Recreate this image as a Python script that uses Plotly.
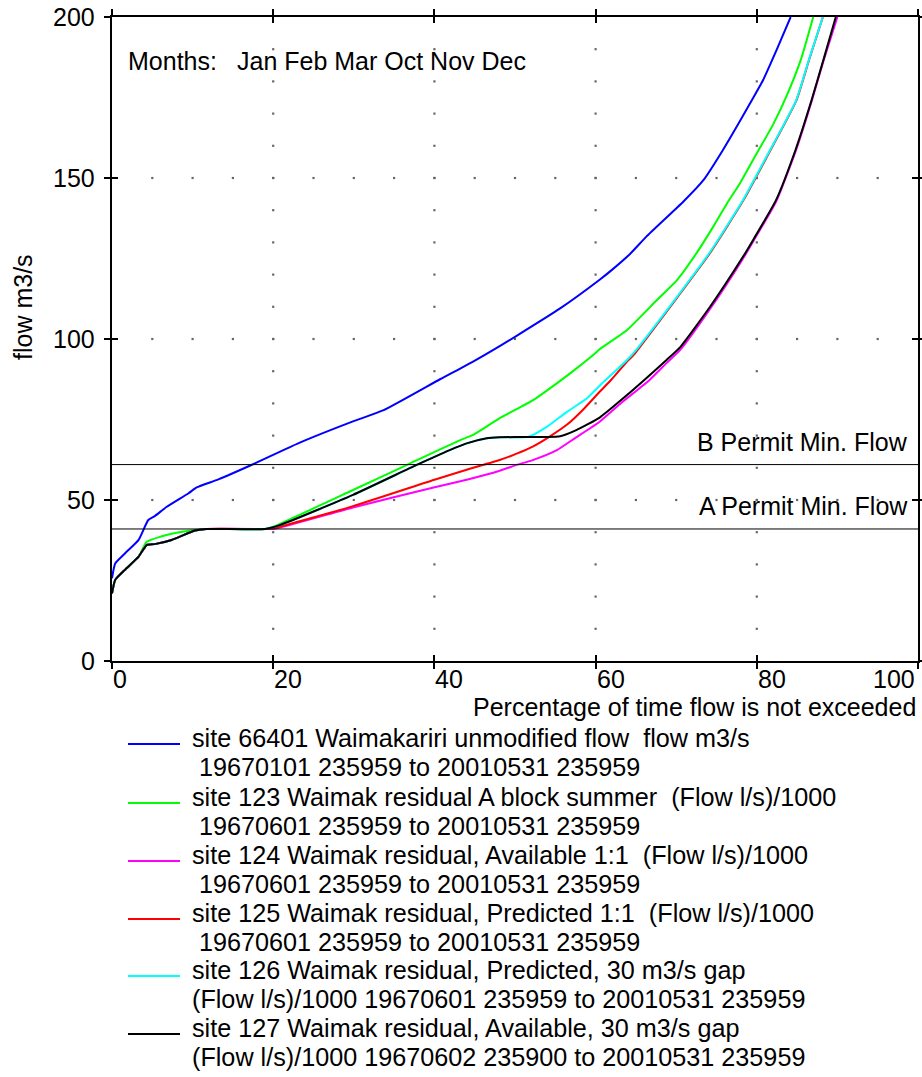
import plotly.graph_objects as go

# ---------------- data ----------------
BLUE_X = [0, 0.4, 1.6, 3.3, 4.5, 5.3, 6.8, 9.5, 10.5, 13.2, 17.5, 23.3, 29.9, 33.7, 40.7, 44.8, 48.1, 50.2,
          55.6, 60.5, 61.8, 64.3, 66.3, 70.9, 73.4, 75.8, 79.4, 80.8, 82.5, 84.2]
BLUE_Y = [25.7, 30.3, 33.4, 37.6, 43.8, 45.0, 47.9, 52.1, 53.9, 56.4, 61.1, 67.8, 74.4, 77.9, 87.5, 93.0, 97.8, 101.0,
          109.5, 118.4, 121.0, 126.5, 131.8, 142.7, 149.4, 158.7, 174.2, 180.5, 190.0, 200]

GREEN_X = [0, 0.4, 1.6, 3.3, 4.3, 6, 8, 10, 11.5, 19, 20, 29.9, 37, 43.2, 44.8, 48.1, 52.3, 55.6, 57.6, 59.7,
           60.5, 63.9, 67.6, 70.1, 72.5, 74.6, 76.3, 77.9, 80, 82, 83.7, 85.5, 87]
GREEN_Y = [21, 25.2, 28.3, 32.4, 37.0, 38.6, 39.8, 40.6, 41, 41, 41.7, 53.1, 61.4, 68.6, 70.2, 75.4, 81.1, 87.0, 90.8, 95.0,
           96.8, 102.8, 112.1, 118.3, 126.6, 134.9, 142.1, 148.3, 157.7, 166.5, 175.5, 187, 200]

MAGENTA_X = [0, 0.4, 1.6, 3.3, 4.3, 5.3, 7.4, 10.3, 11.7, 19, 20, 29.9, 39.9, 44, 48.1, 50.2, 52.2, 55.2, 57.5,
             60.5, 63.2, 66.7, 68.8, 70.5, 74.2, 78.3, 79.6, 82.4, 84.8, 86.8, 88.3, 90]
MAGENTA_Y = [21, 25.2, 28.3, 32.4, 36.0, 36.3, 37.6, 40.5, 41, 41, 41.0, 47.7, 53.9, 56.3, 59.1, 60.9, 62.4, 65.5, 69.3,
             74.3, 80.2, 87.3, 92.5, 96.6, 109.3, 125.0, 130.5, 142.7, 158.2, 173.8, 186.6, 200]

RED_X = [0, 0.4, 1.6, 3.3, 4.3, 5.3, 7.4, 10.3, 11.7, 19, 20, 29.9, 39.9, 44, 48.1, 50.2, 52.2, 54.3, 56.5, 58.5,
         60.5, 62, 63.9, 64.7, 70.1, 74.2, 78.3, 81.2, 84.9, 86.5, 88.2]
RED_Y = [21, 25.2, 28.3, 32.4, 36.0, 36.3, 37.6, 40.5, 41, 41, 41.2, 48.1, 56.2, 59.4, 62.4, 64.4, 66.6, 69.7, 73.5, 78.2,
         83.6, 87.5, 93.0, 95.0, 112.8, 126.7, 142.9, 156.3, 174.0, 186.8, 200]

CYAN_X = [0, 0.4, 1.6, 3.3, 4.3, 5.3, 7.4, 10.3, 11.7, 19, 20.8, 29.9, 37.8, 41.9, 44, 46.5, 48.1, 51.6, 54,
          56.4, 58.9, 60.5, 63.9, 64.7, 70.1, 74.2, 78.3, 81.2, 84.9, 86.5, 88.2]
CYAN_Y = [21, 25.2, 28.3, 32.4, 36.0, 36.3, 37.6, 40.5, 41, 41, 42.2, 51.6, 60.9, 65.5, 67.6, 69.2, 69.5, 69.6, 72.8,
          77.3, 81.5, 85.5, 93.5, 95.6, 113.1, 127.0, 143.2, 156.6, 174.2, 187, 200]

BLACK_X = [0, 0.4, 1.6, 3.3, 4.3, 5.3, 7.4, 10.3, 11.7, 19, 20.8, 29.9, 37.8, 41.9, 44, 46.5, 48.1, 55.6, 57.6,
           60.5, 63.2, 68.8, 70.5, 74.2, 78.3, 79.6, 82.4, 84.8, 86.8, 88.3, 89.8]
BLACK_Y = [21, 25.2, 28.3, 32.4, 36.0, 36.3, 37.6, 40.5, 41, 41, 42.2, 51.6, 60.9, 65.5, 67.6, 69.2, 69.5, 69.8, 71.7,
           75.6, 81.1, 93.5, 97.5, 110.0, 125.6, 131.0, 143.2, 158.7, 174.2, 187, 200]

A_PERMIT_MIN = 41
B_PERMIT_MIN = 61

X_TICKS = [0, 20, 40, 60, 80, 100]
Y_TICKS = [0, 50, 100, 150, 200]

SERIES_NAMES = [
    ("site 66401 Waimakariri unmodified flow\u00a0 flow m3/s", "\u00a019670101 235959 to 20010531 235959"),
    ("site 123 Waimak residual A block summer\u00a0 (Flow l/s)/1000", "\u00a019670601 235959 to 20010531 235959"),
    ("site 124 Waimak residual, Available 1:1\u00a0 (Flow l/s)/1000", "\u00a019670601 235959 to 20010531 235959"),
    ("site 125 Waimak residual, Predicted 1:1\u00a0 (Flow l/s)/1000", "\u00a019670601 235959 to 20010531 235959"),
    ("site 126 Waimak residual, Predicted, 30 m3/s gap", "(Flow l/s)/1000 19670601 235959 to 20010531 235959"),
    ("site 127 Waimak residual, Available, 30 m3/s gap", "(Flow l/s)/1000 19670602 235900 to 20010531 235959"),
]
SERIES_COLORS = ["#0000FF", "#00FF00", "#FF00FF", "#FF0000", "#00FFFF", "#000000"]
SERIES_DATA = [(BLUE_X, BLUE_Y), (GREEN_X, GREEN_Y), (MAGENTA_X, MAGENTA_Y),
               (RED_X, RED_Y), (CYAN_X, CYAN_Y), (BLACK_X, BLACK_Y)]

# ---------------- layout geometry ----------------
W, H = 922, 1077
PL, PR, PT, PB = 112, 918, 17, 661   # plot area pixel bounds
FONT = "Liberation Sans, Arial, sans-serif"
FS = 25
FS_LEG = 25.2


def px(xp):
    return (xp - PL) / (PR - PL)


def py(yp):
    return (PB - yp) / (PB - PT)


fig = go.Figure()

# dotted grid (dots every 5 along value lines, every 10 along x-lines)
gx, gy = [], []
for yv in [50, 100, 150]:
    for xv in range(5, 100, 5):
        gx.append(xv)
        gy.append(yv)
for xv in [20, 40, 60, 80]:
    for yv in range(10, 200, 10):
        gx.append(xv)
        gy.append(yv)
fig.add_trace(go.Scatter(x=gx, y=gy, mode="markers", showlegend=False, hoverinfo="skip",
                         marker=dict(symbol="square", size=2.2, color="#666666")))

for (name, c, (xs, ys)) in zip(SERIES_NAMES, SERIES_COLORS, SERIES_DATA):
    fig.add_trace(go.Scatter(x=xs, y=ys, mode="lines", name=name[0], showlegend=False,
                             line=dict(color=c, width=2, shape="spline", smoothing=0.5)))

# dummy trace for the overlay axes (inside half of crossing ticks)
fig.add_trace(go.Scatter(x=[0], y=[0], xaxis="x2", yaxis="y2", mode="markers",
                         marker=dict(opacity=0), showlegend=False, hoverinfo="skip"))

shapes = []
for v in [A_PERMIT_MIN, B_PERMIT_MIN]:
    shapes.append(dict(type="line", xref="paper", yref="y", x0=0, x1=1, y0=v, y1=v,
                       line=dict(color="black", width=1), layer="above"))

ann = []
tf = dict(family=FONT, size=FS, color="black")
tfl = dict(family=FONT, size=FS_LEG, color="black")
# y tick labels
for v in Y_TICKS:
    ann.append(dict(xref="paper", yref="y", x=px(97), y=v, text=str(v), showarrow=False,
                    xanchor="right", yanchor="middle", font=tf))
# x tick labels
for v in X_TICKS:
    if v == 100:
        ann.append(dict(xref="x", yref="paper", x=v, y=py(679), text=str(v), showarrow=False,
                        xanchor="right", yanchor="middle", xshift=-1, font=tf))
    else:
        ann.append(dict(xref="x", yref="paper", x=v, y=py(679), text=str(v), showarrow=False,
                        xanchor="left", yanchor="middle", xshift=-1, font=tf))
# axis titles
ann.append(dict(xref="paper", yref="paper", x=px(918), y=py(707),
                text="Percentage of time flow is not exceeded", showarrow=False,
                xanchor="right", yanchor="middle", font=tf))
ann.append(dict(xref="paper", yref="paper", x=px(23), y=py(307), text="flow m3/s", textangle=-90,
                showarrow=False, xanchor="center", yanchor="middle", font=tf))
# months text
ann.append(dict(xref="paper", yref="paper", x=px(126), y=py(61), text="Months:", showarrow=False,
                xanchor="left", yanchor="middle", font=tf))
ann.append(dict(xref="paper", yref="paper", x=px(235), y=py(61), text="Jan Feb Mar Oct Nov Dec",
                showarrow=False, xanchor="left", yanchor="middle", font=tf))
# permit labels
ann.append(dict(xref="paper", yref="paper", x=px(910), y=py(442),
                text="B Permit Min. Flow", showarrow=False, xanchor="right", yanchor="middle", font=tf))
ann.append(dict(xref="paper", yref="paper", x=px(910), y=py(506),
                text="A Permit Min. Flow", showarrow=False, xanchor="right", yanchor="middle", font=tf))

# legend (manual)
LEG_TEXT_Y = [738, 797, 855, 913, 970, 1028]
for (name, c, ty) in zip(SERIES_NAMES, SERIES_COLORS, LEG_TEXT_Y):
    shapes.append(dict(type="line", xref="paper", yref="paper", x0=px(128), x1=px(180),
                       y0=py(ty + 6), y1=py(ty + 6), line=dict(color=c, width=2)))
    ann.append(dict(xref="paper", yref="paper", x=px(190), y=py(ty), text=name[0], showarrow=False,
                    xanchor="left", yanchor="middle", font=tfl))
    ann.append(dict(xref="paper", yref="paper", x=px(190), y=py(ty + 29), text=name[1],
                    showarrow=False, xanchor="left", yanchor="middle", font=tfl))

axis_common = dict(showgrid=False, zeroline=False, showticklabels=False, automargin=False)
fig.update_layout(
    width=W, height=H,
    margin=dict(l=PL, r=W - PR, t=PT, b=H - PB, pad=0, autoexpand=False),
    paper_bgcolor="white", plot_bgcolor="white",
    showlegend=False,
    xaxis=dict(range=[0, 100], tickvals=X_TICKS, ticks="outside", ticklen=6, tickwidth=2,
               tickcolor="black", showline=True, linewidth=2, linecolor="black", mirror="ticks",
               **axis_common),
    yaxis=dict(range=[0, 200], tickvals=Y_TICKS, ticks="outside", ticklen=6, tickwidth=2,
               tickcolor="black", showline=True, linewidth=2, linecolor="black", mirror="ticks",
               **axis_common),
    xaxis2=dict(range=[0, 100], overlaying="x", anchor="y2", tickvals=X_TICKS, ticks="inside",
                ticklen=6, tickwidth=2, tickcolor="black", mirror="ticks", showline=False,
                **axis_common),
    yaxis2=dict(range=[0, 200], overlaying="y", anchor="x2", tickvals=Y_TICKS, ticks="inside",
                ticklen=6, tickwidth=2, tickcolor="black", mirror="ticks", showline=False,
                **axis_common),
    shapes=shapes,
    annotations=ann,
)

fig.write_html("out.html", config={"displayModeBar": False},
               post_script="document.body.style.margin='0';document.body.style.overflow='hidden';")
